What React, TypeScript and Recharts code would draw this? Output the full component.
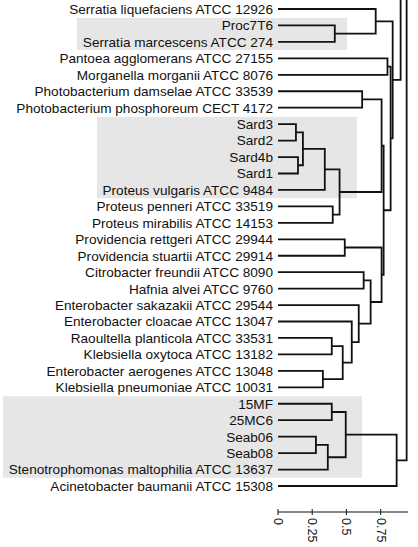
import { LineChart, Line, XAxis, YAxis, ReferenceArea } from 'recharts';

// leaves, top to bottom
const leaves = [
  'Serratia liquefaciens ATCC 12926',
  'Proc7T6',
  'Serratia marcescens ATCC 274',
  'Pantoea agglomerans ATCC 27155',
  'Morganella morganii ATCC 8076',
  'Photobacterium damselae ATCC 33539',
  'Photobacterium phosphoreum CECT 4172',
  'Sard3',
  'Sard2',
  'Sard4b',
  'Sard1',
  'Proteus vulgaris ATCC 9484',
  'Proteus penneri ATCC 33519',
  'Proteus mirabilis ATCC 14153',
  'Providencia rettgeri ATCC 29944',
  'Providencia stuartii ATCC 29914',
  'Citrobacter freundii ATCC 8090',
  'Hafnia alvei ATCC 9760',
  'Enterobacter sakazakii ATCC 29544',
  'Enterobacter cloacae ATCC 13047',
  'Raoultella planticola ATCC 33531',
  'Klebsiella oxytoca ATCC 13182',
  'Enterobacter aerogenes ATCC 13048',
  'Klebsiella pneumoniae ATCC 10031',
  '15MF',
  '25MC6',
  'Seab06',
  'Seab08',
  'Stenotrophomonas maltophilia ATCC 13637',
  'Acinetobacter baumanii ATCC 15308',
];

// the clade above the top edge of the picture (cut off)
const croppedClade = { id: 'top', row: -8, height: 0.86 };

// [node, child a, child b, height]; a number is a leaf row
const merges: [string, number | string, number | string, number][] = [
  ['n0', 1, 2, 0.415],
  ['n1', 0, 'n0', 0.714],
  ['n2', 3, 4, 0.8],
  ['n3', 5, 6, 0.615],
  ['n4', 7, 8, 0.131],
  ['n5', 9, 10, 0.146],
  ['n6', 'n4', 'n5', 0.182],
  ['n7', 'n6', 11, 0.342],
  ['n8', 12, 13, 0.4],
  ['n9', 'n7', 'n8', 0.45],
  ['n10', 'n3', 'n9', 0.757],
  ['n11', 14, 15, 0.488],
  ['n12', 16, 17, 0.626],
  ['n13', 20, 21, 0.393],
  ['n14', 22, 23, 0.328],
  ['n15', 'n13', 'n14', 0.473],
  ['n16', 19, 'n15', 0.539],
  ['n17', 18, 'n16', 0.59],
  ['n18', 'n12', 'n17', 0.677],
  ['n19', 'n11', 'n18', 0.757],
  ['n20', 'n10', 'n19', 0.772],
  ['n21', 'n2', 'n20', 0.823],
  ['n22', 'n1', 'n21', 0.838],
  ['n23', 'top', 'n22', 0.896],
  ['n24', 24, 25, 0.393],
  ['n25', 26, 27, 0.277],
  ['n26', 'n25', 28, 0.364],
  ['n27', 'n24', 'n26', 0.495],
  ['n28', 'n27', 29, 0.867],
  ['n29', 'n23', 'n28', 0.94],
];

const distanceTicks = [0, 0.25, 0.5, 0.75];
const shadedGroups = [
  [1, 2],
  [7, 11],
  [24, 28],
];

// left / right edges of the grey boxes, in distance units
const shadeEdges = [
  [-1.47, 0.504],
  [-1.323, 0.577],
  [-2.01, 0.614],
];

const INK = '#111';
const FONT = 'Liberation Sans, sans-serif';

const pos: Record<string, { y: number; h: number }> = {};
leaves.forEach((_, i) => (pos[String(i)] = { y: i, h: 0 }));
pos[croppedClade.id] = { y: croppedClade.row, h: croppedClade.height };

const links = merges.map(([id, a, b, h]) => {
  const A = pos[String(a)];
  const B = pos[String(b)];
  pos[id] = { y: (A.y + B.y) / 2, h };
  return {
    id,
    data: [
      { d: A.h, y: A.y },
      { d: h, y: A.y },
      { d: h, y: B.y },
      { d: B.h, y: B.y },
    ],
  };
});

const DistTick = (props: any) => {
  const { x, y, payload } = props;
  return (
    <g>
      <line x1={x} x2={x} y1={y - 3} y2={y + 3} stroke={INK} strokeWidth={1} />
      <text
        transform={`translate(${x},${y + 6}) rotate(90)`}
        textAnchor="start"
        dominantBaseline="central"
        fontSize={12.5}
        fontFamily={FONT}
        fill={INK}
      >
        {payload.value}
      </text>
    </g>
  );
};

const LeafTick = (props: any) => {
  const { x, y, payload } = props;
  return (
    <text
      x={x}
      y={y}
      dy="0.36em"
      textAnchor="end"
      fontSize={13.6}
      fontFamily={FONT}
      fill={INK}
    >
      {leaves[payload.value] ?? ''}
    </text>
  );
};

export default function App() {
  return (
    <div style={{ position: 'absolute', left: 0, top: 0, background: '#fff' }}>
      <LineChart width={418} height={547} margin={{ top: 0, right: 10, bottom: 0, left: 0 }}>
        {shadedGroups.map(([first, last], i) => (
          <ReferenceArea
            key={i}
            x1={shadeEdges[i][0]}
            x2={shadeEdges[i][1]}
            y1={first - 0.45}
            y2={last + 0.5}
            fill="#e6e6e6"
            fillOpacity={1}
            stroke="none"
            ifOverflow="visible"
          />
        ))}
        <XAxis
          type="number"
          dataKey="d"
          domain={[0, 0.95]}
          allowDataOverflow
          ticks={distanceTicks}
          tickLine={false}
          tickSize={0}
          tickMargin={0}
          tick={<DistTick />}
          axisLine={{ stroke: INK, strokeWidth: 1 }}
          height={35}
          interval={0}
        />
        <YAxis
          type="number"
          dataKey="y"
          reversed
          domain={[-0.547, 30.58]}
          allowDataOverflow
          ticks={leaves.map((_, i) => i)}
          interval={0}
          width={278}
          axisLine={false}
          tickLine={false}
          tickSize={0}
          tickMargin={5}
          tick={<LeafTick />}
        />
        {links.map((l) => (
          <Line
            key={l.id}
            data={l.data}
            dataKey="y"
            type="linear"
            stroke={INK}
            strokeWidth={1.8}
            dot={false}
            activeDot={false}
            isAnimationActive={false}
          />
        ))}
      </LineChart>
    </div>
  );
}
